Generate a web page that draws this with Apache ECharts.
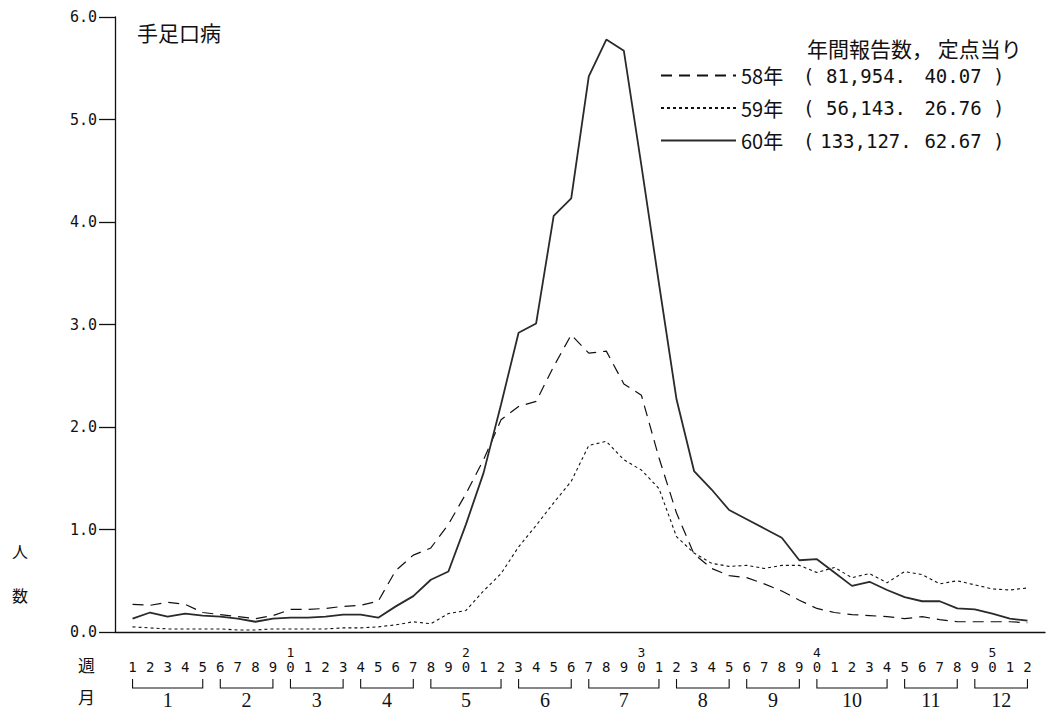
<!DOCTYPE html>
<html>
<head>
<meta charset="utf-8">
<script src="https://cdn.jsdelivr.net/npm/echarts@6/dist/echarts.min.js"></script>
<style>
html,body{margin:0;padding:0;background:#fff;}
#c{width:1051px;height:710px;}
</style>
</head>
<body>
<div id="c"></div>
<script>
// ---- data ----
const weeks = [1,2,3,4,5,6,7,8,9,10,11,12,13,14,15,16,17,18,19,20,21,22,23,24,25,26,
  27,28,29,30,31,32,33,34,35,36,37,38,39,40,41,42,43,44,45,46,47,48,49,50,51,52];
const seriesNames = ['58年', '59年', '60年'];
const annualReports = ['81,954', '56,143', '133,127'];
const perSentinel = ['40.07', '26.76', '62.67'];
const y58 = [0.27,0.26,0.29,0.27,0.19,0.17,0.15,0.13,0.16,0.22,0.22,0.23,0.25,0.26,0.30,0.60,0.75,0.82,1.05,1.35,
  1.68,2.07,2.20,2.25,2.59,2.90,2.72,2.74,2.42,2.31,1.70,1.16,0.76,0.62,0.55,0.53,0.47,0.40,0.31,0.23,
  0.19,0.17,0.16,0.15,0.13,0.15,0.12,0.10,0.10,0.10,0.10,0.09];
const y59 = [0.05,0.04,0.03,0.03,0.03,0.03,0.02,0.02,0.03,0.03,0.03,0.03,0.04,0.04,0.05,0.07,0.10,0.08,0.18,0.21,
  0.40,0.57,0.83,1.04,1.26,1.47,1.82,1.86,1.68,1.58,1.40,0.93,0.77,0.67,0.64,0.65,0.62,0.65,0.65,0.58,
  0.63,0.53,0.57,0.48,0.59,0.56,0.47,0.50,0.46,0.42,0.41,0.43];
const y60 = [0.13,0.19,0.15,0.18,0.16,0.15,0.13,0.10,0.13,0.14,0.14,0.15,0.17,0.17,0.14,0.25,0.35,0.51,0.59,1.05,
  1.55,2.22,2.92,3.01,4.06,4.23,5.42,5.78,5.67,4.55,3.40,2.27,1.57,1.39,1.19,1.10,1.01,0.92,0.70,0.71,
  0.58,0.45,0.49,0.41,0.34,0.30,0.30,0.23,0.22,0.18,0.13,0.11];
const yTicks = [0, 1, 2, 3, 4, 5, 6];
const months = [1,2,3,4,5,6,7,8,9,10,11,12];
const monthStartWeek = [1,6,10,14,18,23,27,32,36,40,45,49];
const monthEndWeek   = [5,9,13,17,22,26,31,35,39,44,48,52];

const pair = arr => weeks.map((w, i) => [w, arr[i]]);
const monthData = months.map((m, i) => [monthStartWeek[i], monthEndWeek[i], m]);

const chart = echarts.init(document.getElementById('c'), null, {renderer: 'svg'});
const BLACK = '#111';
const digitFont = 'DejaVu Sans Mono';
const cjk = '"Noto Sans CJK JP"';

const baseX = {type: 'value', min: 0, max: 53, interval: 1, gridIndex: 0};

chart.setOption({
  animation: false,
  backgroundColor: '#fff',
  title: [
    {text: '手足口病', left: 137, top: 21, padding: 0,
     textStyle: {fontFamily: cjk, fontSize: 21, fontWeight: 'normal', color: BLACK}},
    {text: '年間報告数， 定点当り', left: 807, top: 37, padding: 0,
     textStyle: {fontFamily: cjk, fontSize: 21, fontWeight: 'normal', color: BLACK}}
  ],
  legend: {
    orient: 'vertical', left: 660, top: 64, padding: 0,
    itemWidth: 75, itemHeight: 14, itemGap: 9.5,
    data: seriesNames,
    itemStyle: {opacity: 0},
    formatter: function (name) {
      const i = seriesNames.indexOf(name);
      return '{y|' + name + '}{p|(}{n|' + annualReports[i] + '.}{r| ' + perSentinel[i] + ' )}';
    },
    textStyle: {
      color: BLACK, fontSize: 19, fontFamily: digitFont, lineHeight: 23,
      rich: {
        y: {fontSize: 20, fontFamily: cjk, width: 62, color: BLACK, lineHeight: 23},
        p: {fontSize: 19, fontFamily: digitFont, width: 16, color: BLACK, lineHeight: 23},
        n: {fontSize: 19, fontFamily: digitFont, width: 94, align: 'right', color: BLACK, lineHeight: 23},
        r: {fontSize: 19, fontFamily: digitFont, color: BLACK, lineHeight: 23}
      }
    }
  },
  graphic: [
    {type: 'text', left: 12, top: 543, style: {text: '人', fontSize: 16, fontFamily: cjk, fill: BLACK}},
    {type: 'text', left: 12, top: 587, style: {text: '数', fontSize: 16, fontFamily: cjk, fill: BLACK}},
    {type: 'text', left: 78, top: 656, style: {text: '週', fontSize: 17, fontFamily: cjk, fill: BLACK}},
    {type: 'text', left: 78, top: 688, style: {text: '月', fontSize: 17, fontFamily: cjk, fill: BLACK}}
  ],
  grid: {left: 115, right: 6, top: 17, bottom: 78, containLabel: false},
  xAxis: [
    Object.assign({}, baseX, {
      axisLine: {show: true, onZero: false, lineStyle: {color: BLACK, width: 1.3}},
      axisTick: {show: false}, axisLabel: {show: false}, splitLine: {show: false}
    }),
    Object.assign({}, baseX, {
      position: 'bottom', offset: 35,
      axisLine: {show: false}, axisTick: {show: false}, splitLine: {show: false},
      axisLabel: {
        show: true, margin: 0, verticalAlign: 'middle', showMinLabel: true, showMaxLabel: true,
        fontFamily: digitFont, fontSize: 14, color: BLACK,
        formatter: v => (v >= 1 && v <= 52) ? String(v % 10) : ''
      }
    }),
    Object.assign({}, baseX, {
      position: 'bottom', offset: 20,
      axisLine: {show: false}, axisTick: {show: false}, splitLine: {show: false},
      axisLabel: {
        show: true, margin: 0, verticalAlign: 'middle',
        fontFamily: digitFont, fontSize: 13, color: BLACK,
        formatter: v => (v >= 10 && v <= 52 && v % 10 === 0) ? String(v / 10) : ''
      }
    })
  ],
  yAxis: {
    type: 'value', min: 0, max: 6, interval: 1,
    axisLine: {show: true, lineStyle: {color: BLACK, width: 1.3}},
    axisTick: {show: true, inside: false, length: 16, lineStyle: {color: BLACK, width: 1.3}},
    splitLine: {show: false},
    axisLabel: {
      margin: 18, fontFamily: digitFont, fontSize: 15, color: BLACK,
      formatter: v => yTicks.indexOf(v) >= 0 ? v.toFixed(1) : ''
    }
  },
  series: [
    {
      name: seriesNames[0], type: 'line', data: pair(y58), symbol: 'none', xAxisIndex: 0,
      lineStyle: {color: BLACK, width: 1.2, type: [11, 7]}, itemStyle: {color: BLACK}
    },
    {
      name: seriesNames[1], type: 'line', data: pair(y59), symbol: 'none', xAxisIndex: 0,
      lineStyle: {color: BLACK, width: 1.1, type: [3, 3]}, itemStyle: {color: BLACK}
    },
    {
      name: seriesNames[2], type: 'line', data: pair(y60), symbol: 'none', xAxisIndex: 0,
      lineStyle: {color: '#2a2a2a', width: 1.8}, itemStyle: {color: '#2a2a2a'}
    },
    {
      type: 'custom', xAxisIndex: 0, clip: false, silent: true,
      data: monthData,
      encode: {x: [0, 1]},
      renderItem: function (params, api) {
        const s = api.coord([api.value(0), 0]);
        const e = api.coord([api.value(1), 0]);
        const by = s[1] + 56;
        const ty = s[1] + 47;
        return {
          type: 'group',
          children: [
            {type: 'polyline', shape: {points: [[s[0], ty], [s[0], by], [e[0], by], [e[0], ty]]},
             style: {stroke: BLACK, lineWidth: 1.1, fill: null}},
            {type: 'text', style: {text: String(api.value(2)), x: (s[0] + e[0]) / 2, y: by + 2,
             align: 'center', verticalAlign: 'top', fontSize: 20,
             fontFamily: 'Liberation Serif', fill: BLACK}}
          ]
        };
      }
    }
  ]
});
</script>
</body>
</html>
